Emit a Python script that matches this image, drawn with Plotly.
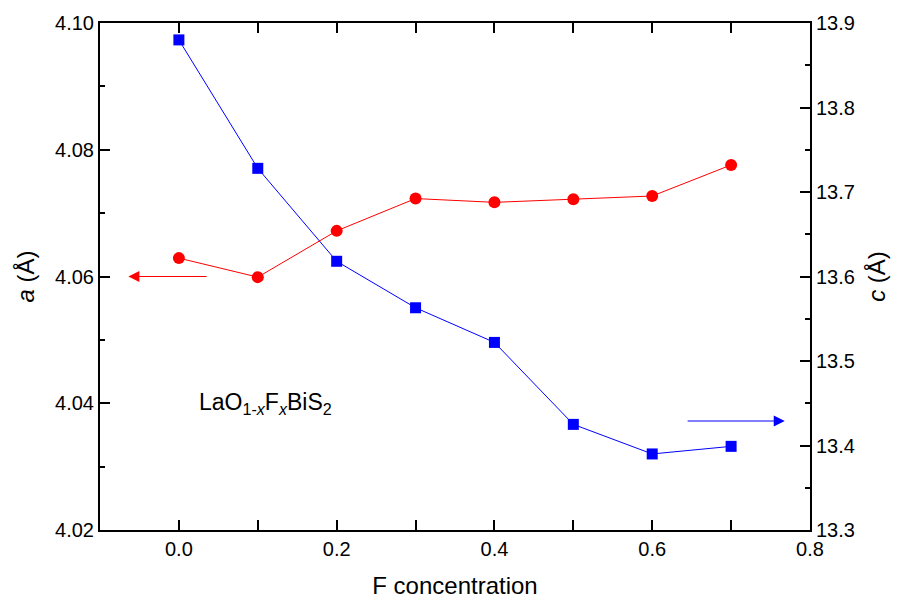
import plotly.graph_objects as go

# Data
x_conc = [0.0, 0.1, 0.2, 0.3, 0.4, 0.5, 0.6, 0.7]
a_vals = [4.0629, 4.0599, 4.0672, 4.0723, 4.0717, 4.0722, 4.0727, 4.0776]
c_vals = [13.880, 13.728, 13.618, 13.563, 13.522, 13.425, 13.390, 13.399]

x_ticks = [0.0, 0.2, 0.4, 0.6, 0.8]
x_tick_text = ["0.0", "0.2", "0.4", "0.6", "0.8"]
a_ticks = [4.02, 4.04, 4.06, 4.08, 4.10]
a_tick_text = ["4.02", "4.04", "4.06", "4.08", "4.10"]
c_ticks = [13.3, 13.4, 13.5, 13.6, 13.7, 13.8, 13.9]
c_tick_text = ["13.3", "13.4", "13.5", "13.6", "13.7", "13.8", "13.9"]

# indicator arrows (tail x, head x, level)
a_arrow = (0.037, -0.064, 4.060)
c_arrow = (0.643, 0.768, 13.429)

FONT = "Arial, Liberation Sans, sans-serif"
RED = "#ff0000"
BLUE = "#0000ff"

fig = go.Figure()
fig.add_trace(go.Scatter(
    x=x_conc, y=a_vals, mode="lines+markers",
    line=dict(color=RED, width=1),
    marker=dict(symbol="circle", size=12, color=RED),
    yaxis="y", showlegend=False))
fig.add_trace(go.Scatter(
    x=x_conc, y=c_vals, mode="lines+markers",
    line=dict(color=BLUE, width=1),
    marker=dict(symbol="square", size=11, color=BLUE),
    yaxis="y2", showlegend=False))

axis_common = dict(
    showgrid=False, zeroline=False, showline=True, linecolor="black", linewidth=2,
    ticks="inside", ticklen=10, tickwidth=2, tickcolor="black", automargin=False,
    tickfont=dict(family=FONT, size=20, color="black"),
)

fig.update_layout(
    width=898, height=599,
    margin=dict(l=100, r=88, t=23, b=69),
    plot_bgcolor="white", paper_bgcolor="white",
    font=dict(family=FONT, color="black"),
    xaxis=dict(
        **axis_common, range=[-0.1, 0.8], mirror="allticks",
        tickvals=x_ticks, ticktext=x_tick_text,
        minor=dict(ticks="inside", ticklen=5, tickwidth=2, tickcolor="black", dtick=0.1, tick0=0),
        title=dict(text="F concentration", font=dict(family=FONT, size=24), standoff=18),
    ),
    yaxis=dict(
        **axis_common, range=[4.02, 4.10],
        tickvals=a_ticks, ticktext=a_tick_text,
        minor=dict(ticks="inside", ticklen=5, tickwidth=2, tickcolor="black", dtick=0.01, tick0=4.02),
        title=dict(text="<i>a</i> (Å)", font=dict(family=FONT, size=24), standoff=14),
    ),
    yaxis2=dict(
        **axis_common, range=[13.3, 13.9], overlaying="y", side="right",
        tickvals=c_ticks, ticktext=c_tick_text,
        minor=dict(ticks="inside", ticklen=5, tickwidth=2, tickcolor="black", dtick=0.05, tick0=13.3),
        title=dict(text="<i>c</i> (Å)", font=dict(family=FONT, size=24), standoff=14),
    ),
)

fig.add_annotation(
    x=a_arrow[1], y=a_arrow[2], ax=a_arrow[0], ay=a_arrow[2],
    xref="x", yref="y", axref="x", ayref="y", text="", showarrow=True,
    arrowhead=2, arrowsize=2.2, arrowwidth=1, arrowcolor=RED)
fig.add_annotation(
    x=c_arrow[1], y=c_arrow[2], ax=c_arrow[0], ay=c_arrow[2],
    xref="x", yref="y2", axref="x", ayref="y2", text="", showarrow=True,
    arrowhead=2, arrowsize=2.2, arrowwidth=1, arrowcolor=BLUE)

fig.add_annotation(
    x=0.023, y=4.040, xref="x", yref="y", xanchor="left", yanchor="middle",
    text="LaO<sub>1-<i>x</i></sub>F<sub><i>x</i></sub>BiS<sub>2</sub>",
    showarrow=False, font=dict(family=FONT, size=23, color="black"))

fig.write_html("out.html")
